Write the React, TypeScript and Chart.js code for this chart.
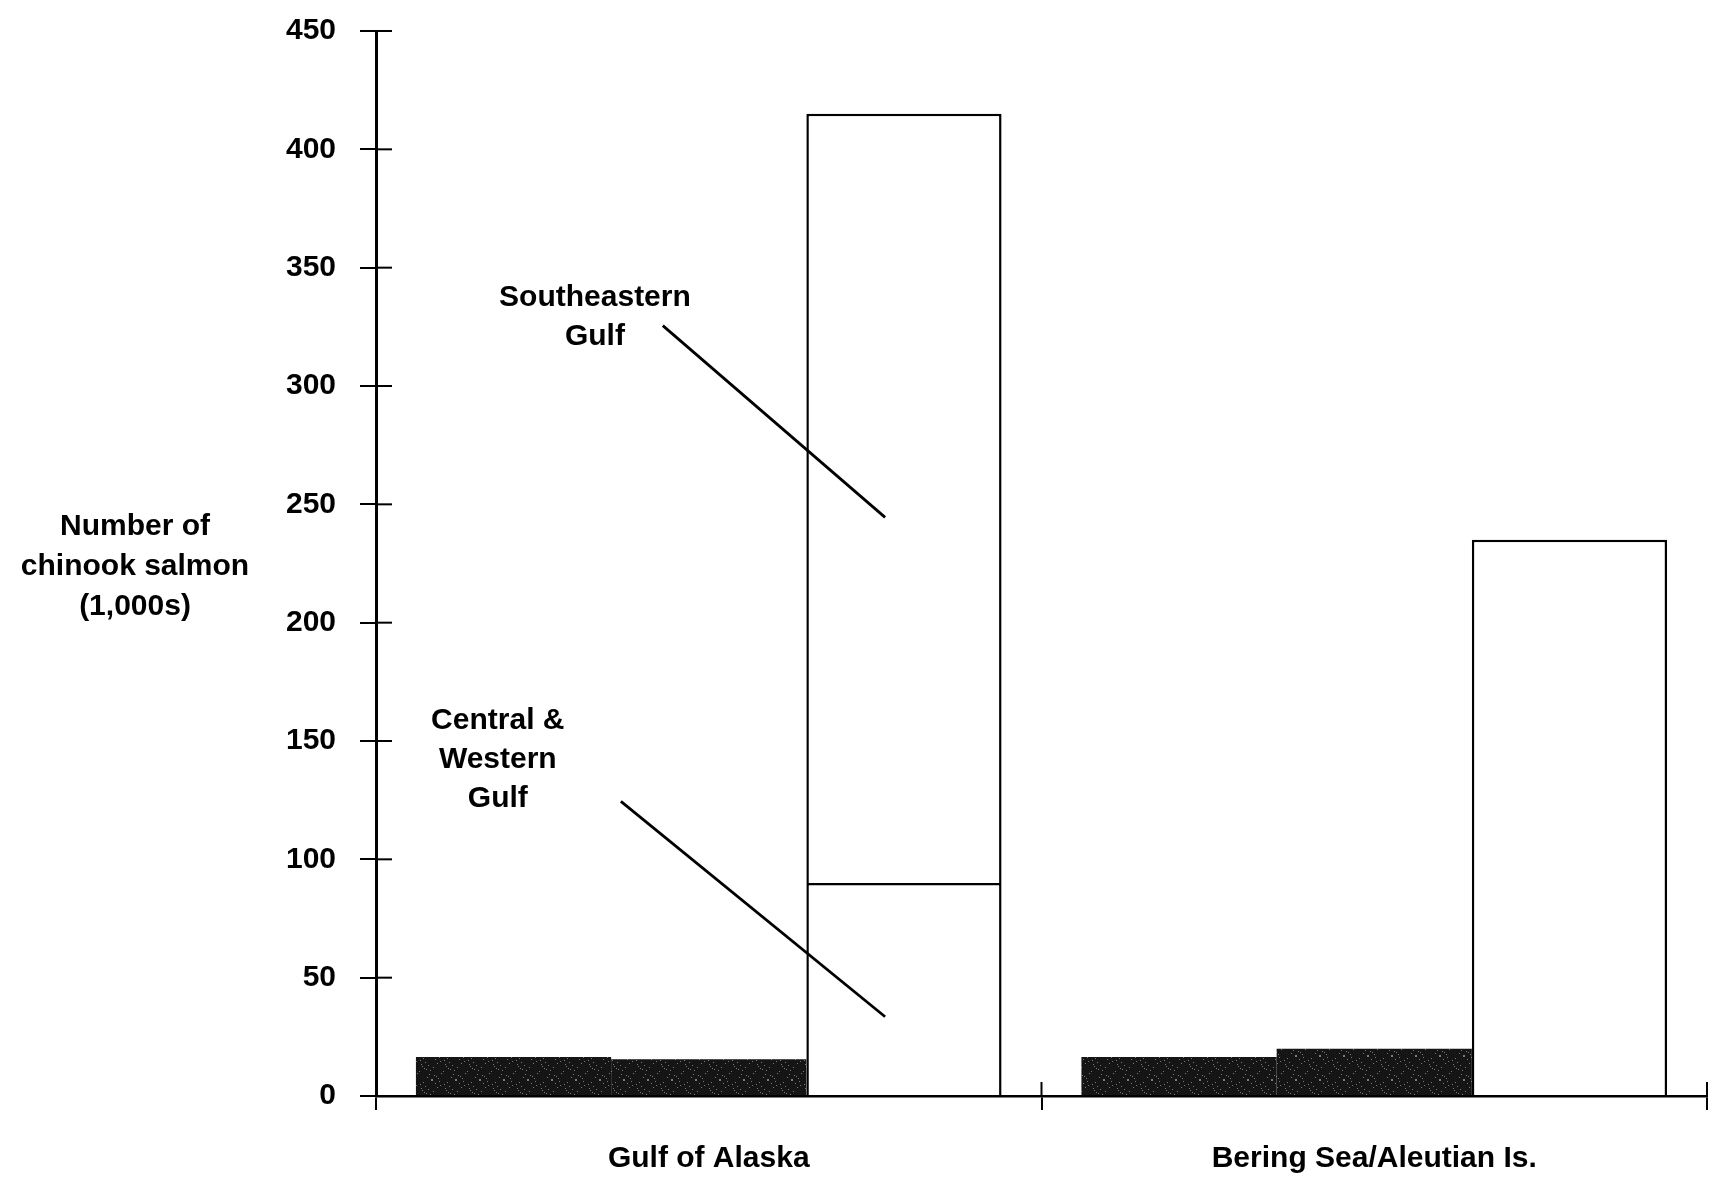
import React, { useEffect, useRef } from "react";
import { Chart, registerables } from "chart.js";

Chart.register(...registerables);

// ---------- data ----------
const categories = ["Gulf of Alaska", "Bering Sea/Aleutian Is."];
const darkSeriesA = [16.5, 16.5];
const darkSeriesB = [15.5, 20];
const whiteLower = [90, 235]; // Central & Western Gulf (GOA) / Bering Sea total
const southeasternGulf = [325, null]; // Southeastern Gulf (stacked on top)
const yMin = 0;
const yMax = 450;
const yStep = 50;
const yTitleLines = ["Number of", "chinook salmon", "(1,000s)"];
const annotationSE = ["Southeastern", "Gulf"];
const annotationCW = ["Central &", "Western", "Gulf"];

const FONT = "'Liberation Sans', Arial, Helvetica, sans-serif";

function makeStipple(): CanvasPattern | string {
  const c = document.createElement("canvas");
  c.width = 24;
  c.height = 24;
  const g = c.getContext("2d");
  if (!g) return "#151515";
  g.fillStyle = "#151515";
  g.fillRect(0, 0, 24, 24);
  g.fillStyle = "#7a7a7a";
  for (let i = 0; i < 24; i++) {
    for (let j = 0; j < 24; j++) {
      if ((i * 7 + j * 13 + i * j) % 23 === 0) g.fillRect(i, j, 1, 1);
    }
  }
  const p = g.createPattern(c, "repeat");
  return p || "#151515";
}

const decorPlugin = {
  id: "decor",
  afterDatasetsDraw(chart: any) {
    const { ctx, chartArea, scales } = chart;
    const x = scales.x;
    const y = scales.y;
    ctx.save();
    ctx.strokeStyle = "#000";
    ctx.fillStyle = "#000";
    ctx.lineWidth = 2;

    // inner halves of y ticks (ticks cross the axis)
    y.ticks.forEach((_t: any, i: number) => {
      const py = y.getPixelForTick(i);
      ctx.beginPath();
      ctx.moveTo(chartArea.left, py);
      ctx.lineTo(chartArea.left + 16, py);
      ctx.stroke();
    });
    // upper halves of x boundary ticks
    for (let i = 1; i <= categories.length; i++) {
      const px = x.getPixelForValue(i - 0.5);
      ctx.beginPath();
      ctx.moveTo(px, chartArea.bottom);
      ctx.lineTo(px, chartArea.bottom - 14);
      ctx.stroke();
    }

    const catW = x.getPixelForValue(1) - x.getPixelForValue(0);
    const cx0 = x.getPixelForValue(0);

    // annotations
    ctx.font = `bold 30px ${FONT}`;
    ctx.textAlign = "center";
    ctx.textBaseline = "middle";
    const drawLabel = (lines: string[], fx: number, vals: number[]) => {
      lines.forEach((l, k) => ctx.fillText(l, cx0 + fx * catW, y.getPixelForValue(vals[k])));
    };
    drawLabel(annotationSE, -0.171, [337.3, 320.8]);
    drawLabel(annotationCW, -0.317, [158.7, 142.2, 125.7]);

    ctx.lineWidth = 2.8;
    const leader = (fx1: number, v1: number, fx2: number, v2: number) => {
      ctx.beginPath();
      ctx.moveTo(cx0 + fx1 * catW, y.getPixelForValue(v1));
      ctx.lineTo(cx0 + fx2 * catW, y.getPixelForValue(v2));
      ctx.stroke();
    };
    leader(-0.069, 325.5, 0.265, 244.5);
    leader(-0.132, 124.5, 0.265, 33.5);

    // y-axis title (horizontal)
    const tx = chartArea.left - 241;
    const tyc = y.getPixelForValue(223.8);
    yTitleLines.forEach((l, k) => ctx.fillText(l, tx, tyc + (k - 1) * 40));
    ctx.restore();
  },
};

export default function App() {
  const ref = useRef<HTMLCanvasElement | null>(null);
  useEffect(() => {
    if (!ref.current) return;
    const stipple = makeStipple();
    const whiteBorder = { top: 2.5, left: 2.5, right: 2.5, bottom: 0 };
    const chart = new Chart(ref.current, {
      type: "bar",
      data: {
        labels: categories,
        datasets: [
          { label: "Series A", data: darkSeriesA, stack: "a", backgroundColor: stipple as any, borderWidth: 0 },
          { label: "Series B", data: darkSeriesB, stack: "b", backgroundColor: stipple as any, borderWidth: 0 },
          {
            label: "Central & Western Gulf",
            data: whiteLower,
            stack: "c",
            backgroundColor: "#ffffff",
            borderColor: "#000",
            borderWidth: whiteBorder as any,
            borderSkipped: false,
          },
          {
            label: "Southeastern Gulf",
            data: southeasternGulf as any,
            stack: "c",
            backgroundColor: "#ffffff",
            borderColor: "#000",
            borderWidth: whiteBorder as any,
            borderSkipped: false,
          },
        ],
      },
      options: {
        animation: false,
        responsive: false,
        maintainAspectRatio: false,
        layout: { padding: { top: 31, right: 11, left: 0, bottom: 0 } },
        plugins: { legend: { display: false }, tooltip: { enabled: false }, title: { display: false } },
        datasets: { bar: { categoryPercentage: 0.88, barPercentage: 1.0 } },
        scales: {
          x: {
            grid: { offset: true, drawOnChartArea: false, drawTicks: true, tickLength: 14, color: "#000", lineWidth: 2 },
            border: { display: true, color: "#000", width: 2.5 },
            ticks: { color: "#000", font: { family: FONT, size: 30, weight: "bold" }, padding: 31, maxRotation: 0 },
            afterFit: (s: any) => {
              s.height = 83;
              s.paddingLeft = 0;
              s.paddingRight = 0;
            },
          },
          y: {
            stacked: true,
            min: yMin,
            max: yMax,
            grid: { drawOnChartArea: false, drawTicks: true, tickLength: 16, color: "#000", lineWidth: 2 },
            border: { display: true, color: "#000", width: 3 },
            ticks: { stepSize: yStep, color: "#000", font: { family: FONT, size: 30, weight: "bold" }, padding: 24 },
            afterFit: (s: any) => {
              s.width = 376;
              s.paddingTop = 0;
              s.paddingBottom = 0;
            },
          },
        },
      },
      plugins: [decorPlugin],
    });
    return () => chart.destroy();
  }, []);
  return (
    <div style={{ position: "absolute", left: 0, top: 0, width: 1718, height: 1179, background: "#fff" }}>
      <canvas ref={ref} width={1718} height={1179} />
    </div>
  );
}
